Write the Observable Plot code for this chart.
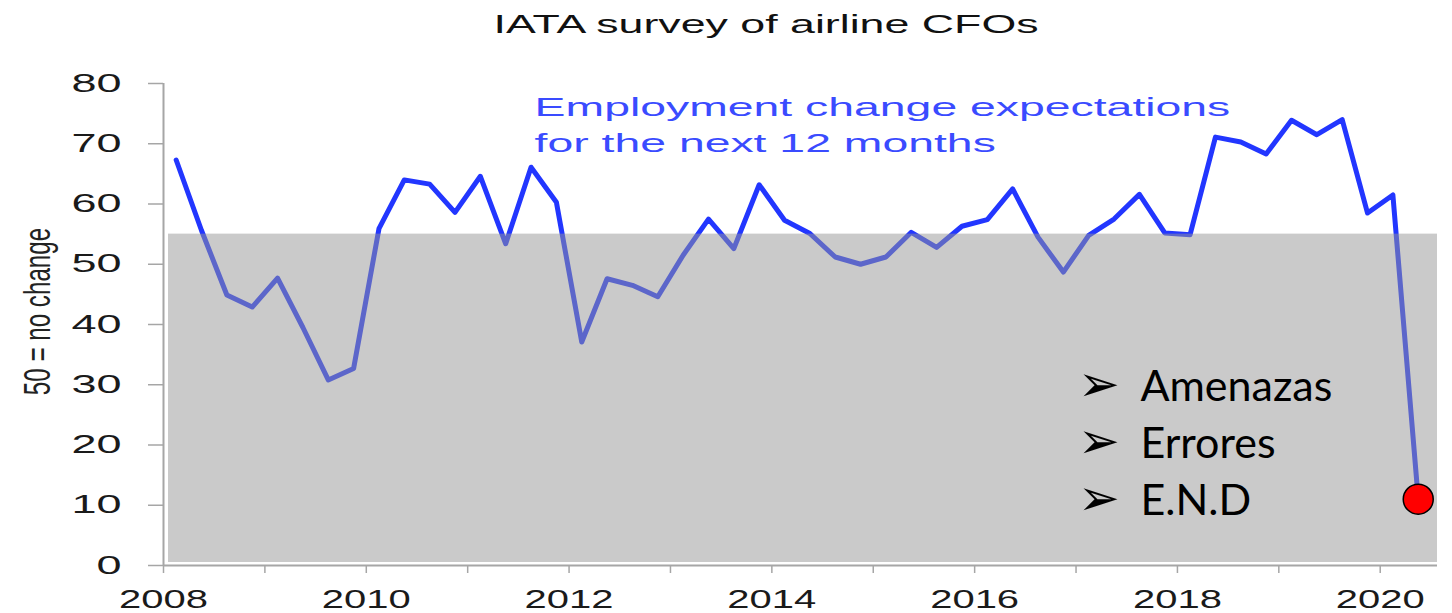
<!DOCTYPE html>
<html><head><meta charset="utf-8">
<script src="https://cdn.jsdelivr.net/npm/d3@7"></script>
<script src="https://cdn.jsdelivr.net/npm/@observablehq/plot@0.6"></script>
<style>
body{margin:0;background:#fff;}
#wrap{position:relative;width:1452px;height:613px;overflow:hidden;background:#fff;}
#title{position:relative;height:62px;}
#title span{position:absolute;left:766px;top:9px;font:26px "Liberation Sans",Arial,sans-serif;color:#111;white-space:nowrap;transform:translateX(-50%) scaleX(1.72);transform-origin:center;}
#chart svg{display:block;}
</style></head>
<body><div id="wrap"><div id="title"><span>IATA survey of airline CFOs</span></div><div id="chart"></div></div>
<script>
// Quarterly survey periods and the employment expectation index (50 = no change)
const quarters = [
  "2008Q1","2008Q2","2008Q3","2008Q4","2009Q1","2009Q2","2009Q3","2009Q4",
  "2010Q1","2010Q2","2010Q3","2010Q4","2011Q1","2011Q2","2011Q3","2011Q4",
  "2012Q1","2012Q2","2012Q3","2012Q4","2013Q1","2013Q2","2013Q3","2013Q4",
  "2014Q1","2014Q2","2014Q3","2014Q4","2015Q1","2015Q2","2015Q3","2015Q4",
  "2016Q1","2016Q2","2016Q3","2016Q4","2017Q1","2017Q2","2017Q3","2017Q4",
  "2018Q1","2018Q2","2018Q3","2018Q4","2019Q1","2019Q2","2019Q3","2019Q4",
  "2020Q1","2020Q2"
];
const values = [
  67.3, 55.6, 44.9, 42.9, 47.7, 39.5, 30.8, 32.7,
  55.9, 64.0, 63.3, 58.6, 64.6, 53.4, 66.1, 60.3,
  37.1, 47.6, 46.5, 44.6, 51.5, 57.5, 52.6, 63.2,
  57.3, 55.1, 51.2, 50.0, 51.2, 55.3, 52.8, 56.3,
  57.4, 62.5, 54.5, 48.7, 54.8, 57.5, 61.6, 55.2,
  54.9, 71.1, 70.3, 68.3, 73.9, 71.5, 74.0, 58.5,
  61.5, 11.0
];
const yTicks = [0, 10, 20, 30, 40, 50, 60, 70, 80];
const xTicks = [2008, 2009, 2010, 2011, 2012, 2013, 2014, 2015, 2016, 2017, 2018, 2019, 2020];
const xTickLabels = ["2008", "", "2010", "", "2012", "", "2014", "", "2016", "", "2018", "", "2020"];
const band = [{lo: 0, hi: 55}];              // shaded zone
const yLabel = "50 = no change";
const annotation = "Employment change expectations\nfor the next 12 months";
const bullets = ["Amenazas", "Errores", "E.N.D"];
const bulletY = [27.3, 17.8, 8.3];          // baseline positions (index units)

const data = quarters.map((q, i) => ({
  t: +q.slice(0, 4) + (+q.slice(5) - 1) * 0.25 + 0.125,
  v: values[i]
}));
const last = [data[data.length - 1]];
const bulletData = bullets.map((b, i) => ({label: b, y: bulletY[i]}));

const chart = Plot.plot({
  width: 1452, height: 551,
  marginLeft: 163, marginRight: 15, marginTop: 21, marginBottom: 48,
  style: {fontFamily: "'Liberation Sans', Arial, sans-serif", background: "white", overflow: "visible"},
  x: {domain: [2008, 2020.565], label: null},
  y: {domain: [0, 80], label: null},
  marks: [
    Plot.lineY(data, {x: "t", y: "v", stroke: "#2236ff", strokeWidth: 5, strokeLinejoin: "round"}),
    Plot.rect(band, {x1: 2008, x2: 2020.565, y1: "lo", y2: "hi", fill: "#969696", fillOpacity: 0.5, insetLeft: 5, insetBottom: 3}),
    Plot.ruleY([0], {stroke: "#a6a6a6", strokeWidth: 2}),
    Plot.ruleX([2008], {y1: 0, y2: 80, stroke: "#a6a6a6", strokeWidth: 2}),
    Plot.axisY({ticks: yTicks, tickSize: 15, tickPadding: 27, fontSize: 25, stroke: "#a6a6a6", strokeWidth: 1.5, fill: "#1a1a1a", label: null}),
    Plot.axisX({ticks: xTicks, tickFormat: (d) => xTickLabels[xTicks.indexOf(d)], tickSize: 8, tickPadding: 17, fontSize: 25, stroke: "#a6a6a6", strokeWidth: 1.5, fill: "#1a1a1a", label: null}),
    Plot.text([yLabel], {frameAnchor: "left", rotate: -90, dx: -114, dy: -13, textAnchor: "middle", lineAnchor: "bottom", fontSize: 26, fill: "#222"}),
    Plot.text([annotation], {x: 2011.66, y: 68.7, text: d => d, textAnchor: "start", lineAnchor: "bottom", lineHeight: 1.36, fontSize: 26.5, fill: "#3a4bff"}),
    Plot.text(bulletData, {x: 2017.02, y: "y", text: () => "\u27A2", textAnchor: "start", lineAnchor: "bottom", fontSize: 50, fontFamily: "'DejaVu Sans'", fill: "#000"}),
    Plot.text(bulletData, {x: 2017.635, y: "y", text: "label", textAnchor: "start", lineAnchor: "bottom", fontSize: 43, fontFamily: "Lato, 'Open Sans', sans-serif", fill: "#000"}),
    Plot.dot(last, {x: "t", y: "v", r: 15, fill: "#ff0000", stroke: "#000", strokeWidth: 1.5})
  ]
});

function stretch(nodes, sx, sy = 1) {
  for (const t of nodes) {
    const tr = t.getAttribute("transform") || "";
    const xa = t.getAttribute("x"), ya = t.getAttribute("y");
    let tx = 0, ty = 0;
    if (xa != null && !/em$/.test(xa)) { tx = +xa; t.removeAttribute("x"); }
    if (ya != null && !/em$/.test(ya)) { ty = +ya; t.removeAttribute("y"); }
    t.setAttribute("transform", `${tr} translate(${tx},${ty}) scale(${sx},${sy})`);
  }
}
stretch(chart.querySelectorAll('g[aria-label="y-axis tick label"] text'), 1.8);
stretch(chart.querySelectorAll('g[aria-label="x-axis tick label"] text'), 1.6);
const textGroups = chart.querySelectorAll('g[aria-label="text"]');
if (textGroups[0]) stretch(textGroups[0].querySelectorAll("text"), 0.93, 1.4);
if (textGroups[1]) stretch(textGroups[1].querySelectorAll("text"), 1.75);

document.getElementById("chart").appendChild(chart);
</script>
</body></html>
